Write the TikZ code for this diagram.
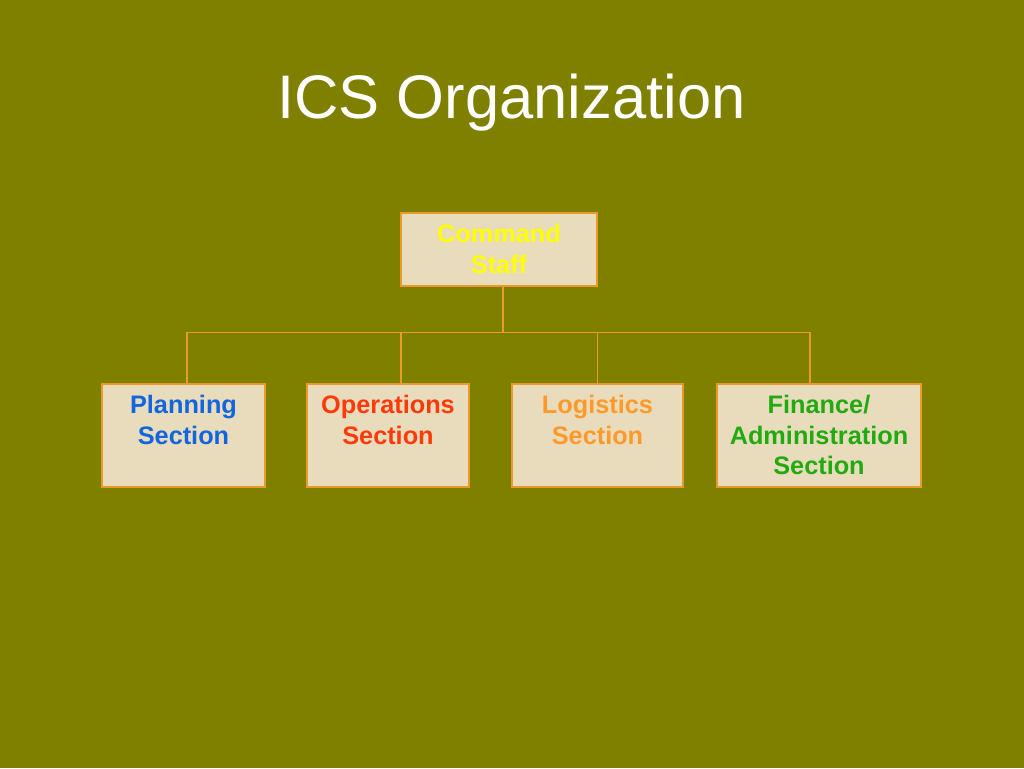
\documentclass[tikz,border=0pt]{standalone}
\usepackage{fontspec}
\setmainfont{Liberation Sans}
\usepackage{xcolor}

\definecolor{slidebg}{HTML}{808000}
\definecolor{boxfill}{HTML}{E8DCBC}
\definecolor{lineorange}{HTML}{E89A2A}
\definecolor{cmdyellow}{HTML}{FFFF00}
\definecolor{planblue}{HTML}{1166E0}
\definecolor{opsred}{HTML}{FF3A0A}
\definecolor{logiorange}{HTML}{FF9A2A}
\definecolor{fingreen}{HTML}{22AA11}

% box text: top aligned, centred
\newcommand{\sectext}[3]{\parbox[c][\dimexpr#2-13pt\relax][t]{#1}{\centering #3}}

\begin{document}
\begin{tikzpicture}[
    x=0.02cm, y=-0.02cm,
    sect/.style={
        rectangle, draw=lineorange, fill=boxfill, line width=0.8pt,
        inner xsep=0pt, inner ysep=6.5pt,
        font=\bfseries\fontsize{14.4}{17.3}\selectfont
    },
    link/.style={draw=lineorange, line width=0.6pt},
    title/.style={text=white, font=\fontsize{35}{40}\selectfont, anchor=base, inner sep=0pt}
]

% Background
\fill[slidebg] (0,0) rectangle (1024,768);
\useasboundingbox (0,0) rectangle (1024,768);

\node[title] (head) at (511.5, 118.5) {ICS Organization};

% Blocks
\node[sect, text=cmdyellow] (cmd) at (499, 249.5)  {\sectext{3.92cm}{1.46cm}{Command\\Staff}};
\node[sect, text=planblue] (plan) at (183.5, 435.5) {\sectext{3.26cm}{2.06cm}{Planning\\Section}};
\node[sect, text=opsred] (ops) at (388, 435.5)      {\sectext{3.24cm}{2.06cm}{Operations\\Section}};
\node[sect, text=logiorange] (logi) at (597.5, 435.5) {\sectext{3.42cm}{2.06cm}{Logistics\\Section}};
\node[sect, text=fingreen] (fin) at (819, 435.5)    {\sectext{4.08cm}{2.06cm}{Finance/\\Administration\\Section}};

% Edges
\draw[link] ([xshift=0.08cm]cmd.south) -- ++(0,46) coordinate (bus);
\draw[link] (bus) -| ([xshift=0.07cm]plan.north);
\draw[link] (bus) -| ([xshift=0.26cm]ops.north);
\draw[link] (bus) -| (logi.north);
\draw[link] (bus) -| ([xshift=-0.18cm]fin.north);

\end{tikzpicture}
\end{document}
